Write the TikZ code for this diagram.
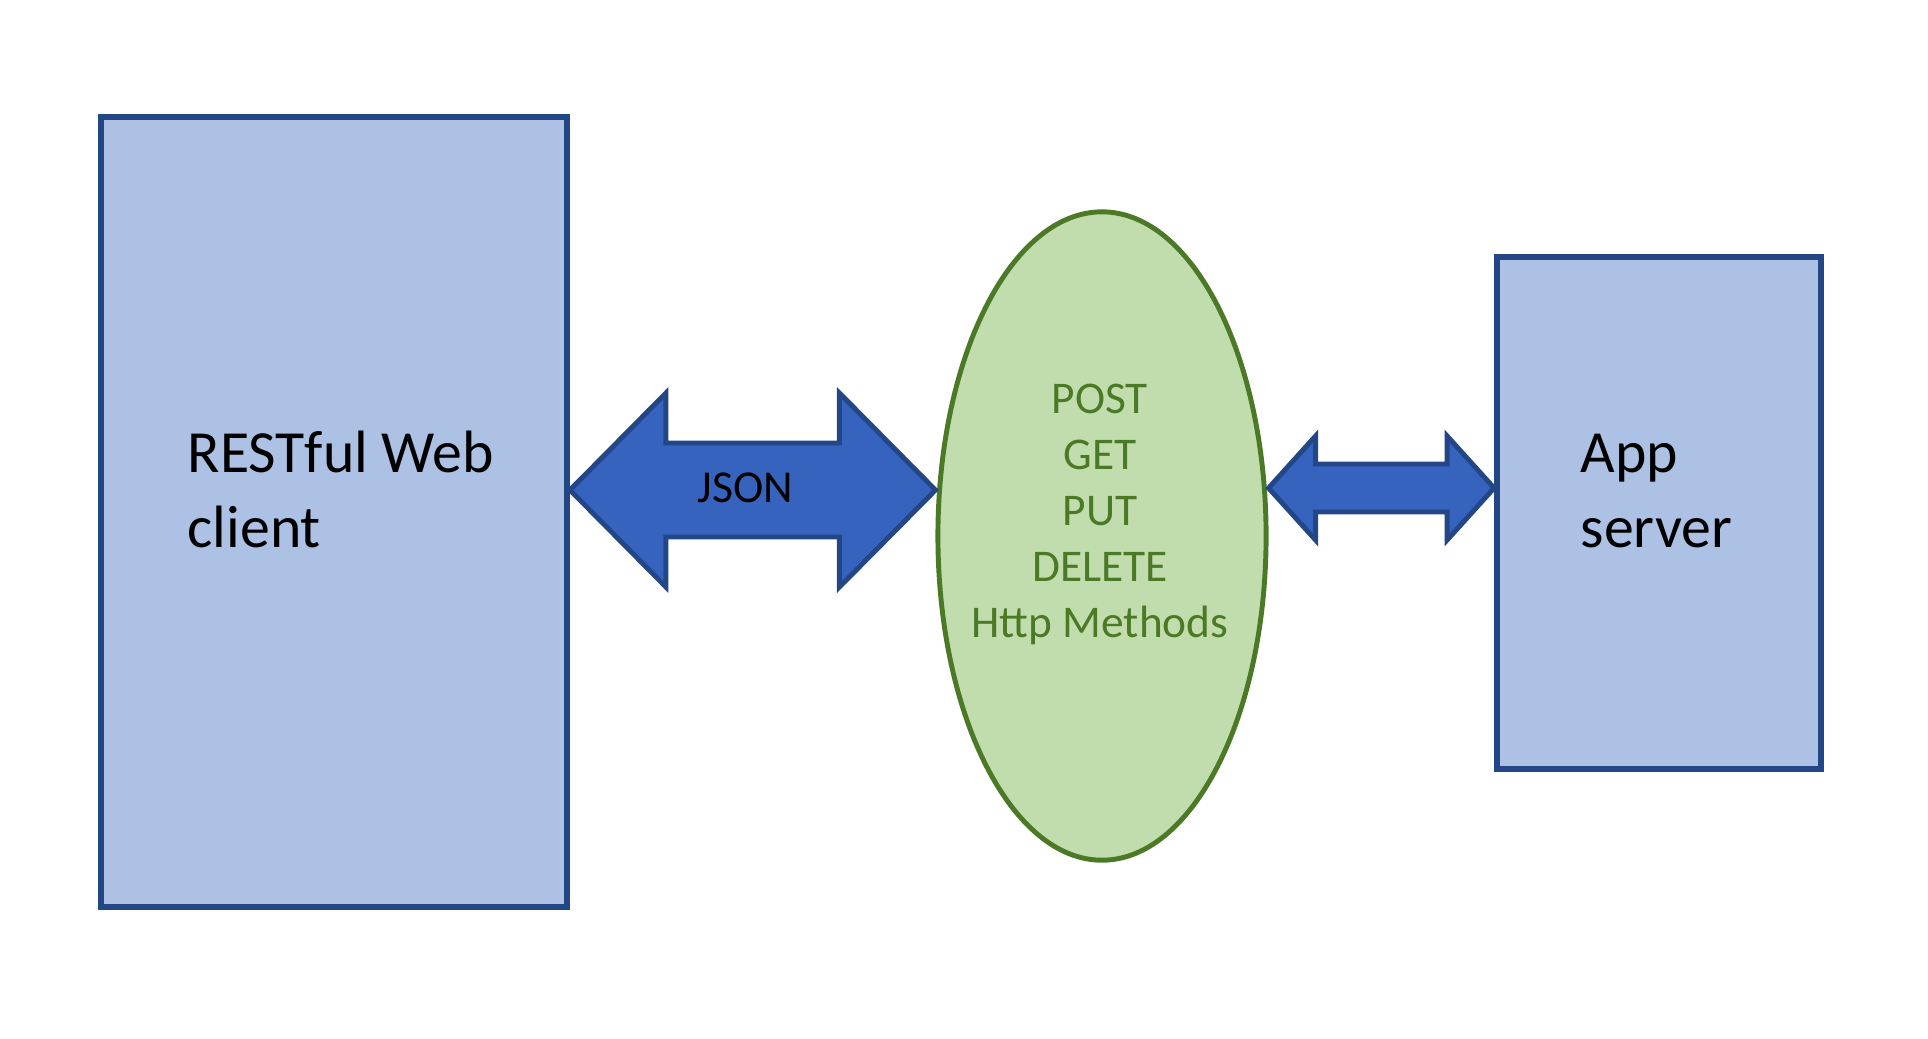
\documentclass[tikz,border=0pt]{standalone}
\usepackage{fontspec}
\setmainfont{Carlito}
\usetikzlibrary{calc,shapes.geometric}
\definecolor{boxfill}{RGB}{173,193,228}
\definecolor{boxline}{RGB}{35,70,135}
\definecolor{arrowfill}{RGB}{53,99,189}
\definecolor{ovalfill}{RGB}{193,221,173}
\definecolor{ovalline}{RGB}{76,121,38}
% fat double arrow: from, to, head length, head half height, shaft half height
\newcommand{\fatarrow}[5]{%
  \draw[bigarrow] (#1) -- ++(#3,-#4) -- ++(0,#4-#5) -- ($(#2)+(-#3,-#5)$) -- ++(0,#5-#4)
    -- (#2) -- ++(-#3,#4) -- ++(0,#5-#4) -- ($(#1)+(#3,#5)$) -- ++(0,#4-#5) -- cycle;}

\begin{document}
\begin{tikzpicture}
[x=0.01cm,y=-0.01cm,
 box/.style={rectangle,draw=boxline,fill=boxfill,line width=1.6pt,inner sep=0pt},
 oval/.style={ellipse,draw=ovalline,fill=ovalfill,line width=1.4pt,inner sep=0pt},
 bigarrow/.style={draw=boxline,fill=arrowfill,line width=1.4pt,line join=miter},
 boxtext/.style={anchor=base west,align=left,inner sep=0pt,font=\fontsize{17}{21.3}\selectfont},
 ovaltext/.style={align=center,inner sep=0pt,text=ovalline,font=\fontsize{12.9}{15.9}\selectfont}]
\useasboundingbox (0,0) rectangle (1928,1038);
\node[box,minimum width=4.66cm,minimum height=7.90cm] (client) at (334,512) {};
\node[oval,minimum width=3.28cm,minimum height=6.48cm] (methods) at (1102,536) {};
\node[box,minimum width=3.24cm,minimum height=5.12cm] (server) at (1659,513) {};
% labels, placed by the baseline of their last line
\node[boxtext] (clientlabel) at (187,547) {RESTful Web\\client};
\node[boxtext] (serverlabel) at (1580,547) {App\\server};
\node[ovaltext,anchor=base] (methodslabel) at (1100,637) {POST\\GET\\PUT\\DELETE\\Http Methods};
% arrows
\coordinate (jl) at (client.east |- 0,490);
\coordinate (jr) at (methods.west |- 0,490);
\coordinate (al) at (methods.east |- 0,488);
\coordinate (ar) at (server.west |- 0,488);
\fatarrow{jl}{jr}{96}{97}{47}
\fatarrow{al}{ar}{47}{52}{24}
\node[anchor=base,inner sep=0pt,font=\fontsize{13}{15}\selectfont] (json) at ($(jl)!0.48!(jr)+(0,12)$) {JSON};
\end{tikzpicture}
\end{document}
